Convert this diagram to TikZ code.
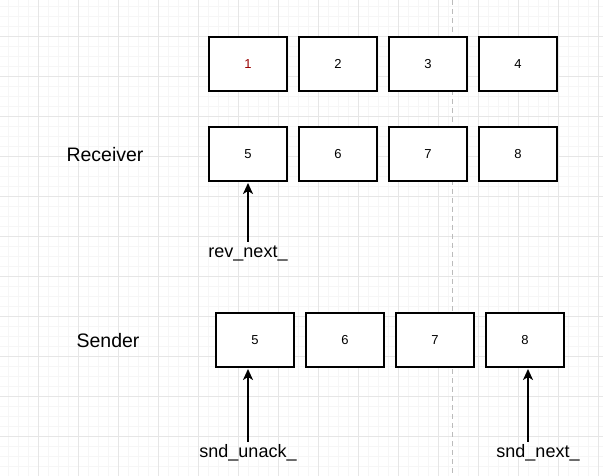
\documentclass[tikz,border=0pt]{standalone}
\usepackage{fontspec}
\setmainfont{Liberation Sans}
\usetikzlibrary{arrows.meta}
\definecolor{minorgrid}{HTML}{F6F6F6}
\definecolor{majorgrid}{HTML}{E6E6E6}
\definecolor{dashgray}{HTML}{BBBBBB}
\definecolor{onered}{HTML}{990000}
\begin{document}
\begin{tikzpicture}[x=1pt,y=-1pt,
  cell/.style={draw=black,fill=white,line width=2.2pt,minimum width=78pt,minimum height=54pt,inner sep=0pt,font=\fontsize{13}{15}\selectfont},
  rowlabel/.style={font=\fontsize{19.5}{22}\selectfont,inner sep=0pt},
  ptrlabel/.style={font=\fontsize{18}{20}\selectfont,inner sep=0pt},
  ptr/.style={line width=2.2pt,-{Stealth[length=11pt,width=10pt,inset=3pt]}}]
\useasboundingbox (0,0) rectangle (603,476);
\fill[white] (0,0) rectangle (603,476);
% grid
\foreach \gx in {8,18,...,603} \draw[minorgrid,line width=0.8pt] (\gx,0) -- (\gx,476);
\foreach \gy in {6,16,...,476} \draw[minorgrid,line width=0.8pt] (0,\gy) -- (603,\gy);
\foreach \gx in {38,78,...,603} \draw[majorgrid,line width=0.8pt] (\gx,0) -- (\gx,476);
\foreach \gy in {36,76,...,476} \draw[majorgrid,line width=0.8pt] (0,\gy) -- (603,\gy);
% dashed separator
\draw[dashgray,line width=1pt,dash pattern=on 5pt off 4pt] (452,0) -- (452,476);
% top row
\node[cell,text=onered] (t1) at (248,64) {1};
\node[cell] (t2) at (338,64) {2};
\node[cell] (t3) at (428,64) {3};
\node[cell] (t4) at (518,64) {4};
% receiver row
\node[rowlabel] (recv) at (105,155) {Receiver};
\node[cell] (r5) at (248,154) {5};
\node[cell] (r6) at (338,154) {6};
\node[cell] (r7) at (428,154) {7};
\node[cell] (r8) at (518,154) {8};
% sender row
\node[rowlabel] (send) at (108,341) {Sender};
\node[cell] (s5) at (255,340) {5};
\node[cell] (s6) at (345,340) {6};
\node[cell] (s7) at (435,340) {7};
\node[cell] (s8) at (525,340) {8};
% pointers
\node[ptrlabel] (rn) at (248,253) {rev\_next\_};
\node[ptrlabel] (su) at (248,453) {snd\_unack\_};
\node[ptrlabel] (sn) at (538,453) {snd\_next\_};
\coordinate (rnA) at (248,242);
\coordinate (rnB) at (248,183);
\coordinate (suA) at (248,442);
\coordinate (suB) at (248,369);
\coordinate (snA) at (528,442);
\coordinate (snB) at (528,369);
\draw[ptr] (rnA) -- (rnB);
\draw[ptr] (suA) -- (suB);
\draw[ptr] (snA) -- (snB);
\end{tikzpicture}
\end{document}
